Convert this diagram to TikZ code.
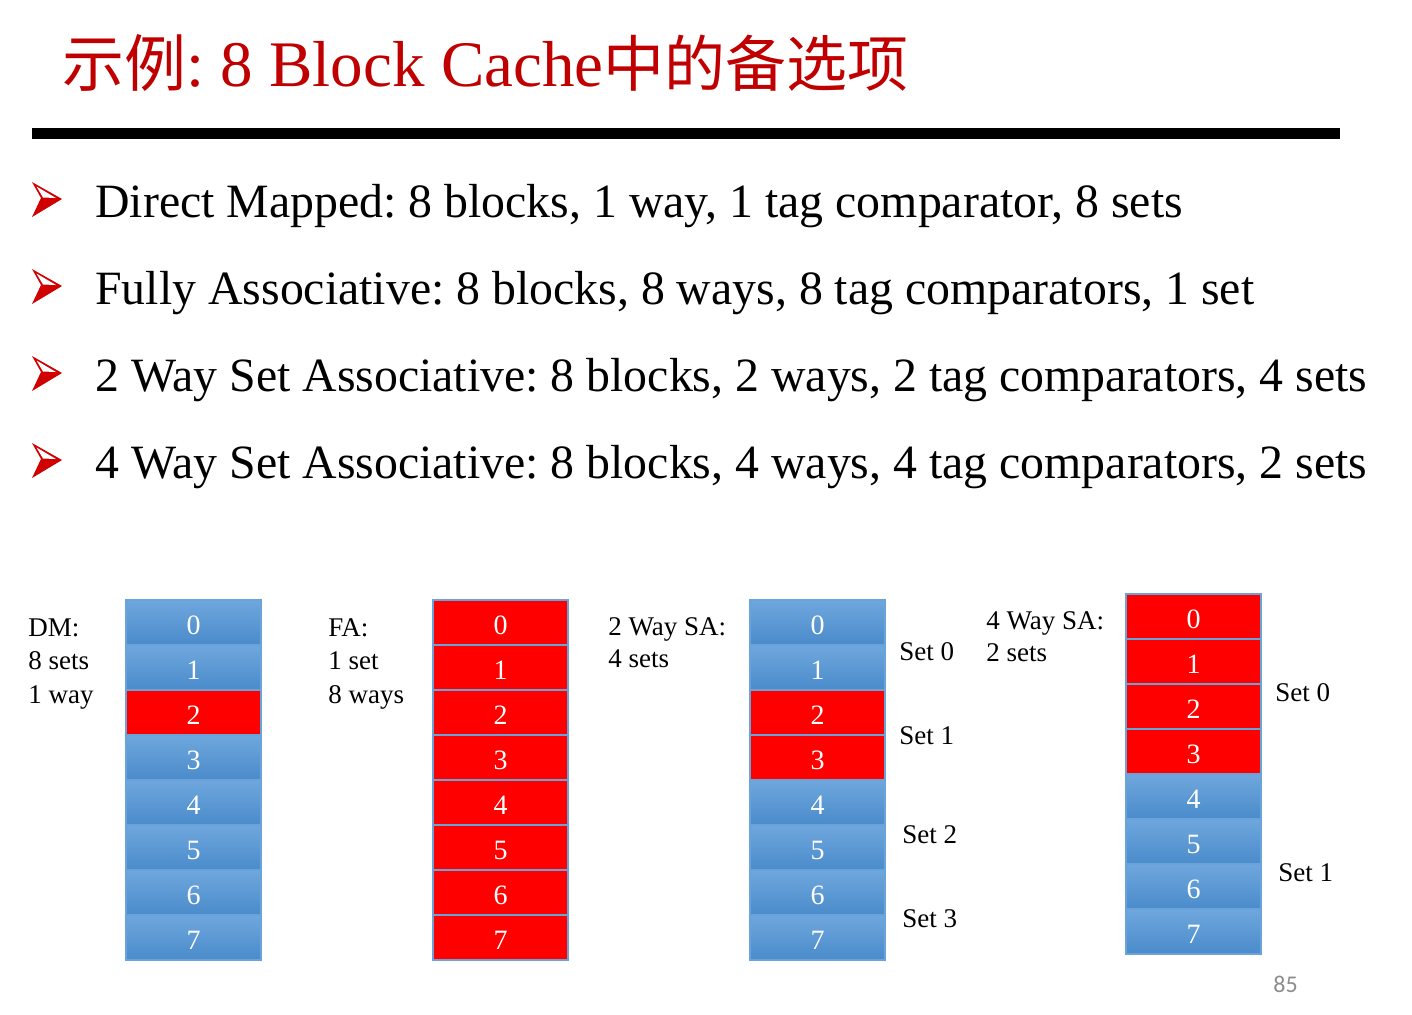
\documentclass[tikz,border=0pt]{standalone}
\usepackage{fontspec}
\setmainfont{Liberation Serif}
\newfontfamily\cjk{Noto Sans CJK SC}
\newfontfamily\pagefont{Carlito}
\definecolor{titlered}{HTML}{C00000}
\definecolor{bulletred}{HTML}{D00000}
\definecolor{celltop}{HTML}{6FA7DD}
\definecolor{cellbot}{HTML}{4A8BCB}
\definecolor{cellline}{HTML}{6AA3DA}
\definecolor{cellred}{HTML}{FF0000}
\definecolor{pagegray}{HTML}{8C8C8C}
\frenchspacing
\newcommand\cachecol[5]{%
  \foreach \i in {0,...,7}{%
    \pgfmathsetmacro\yy{#3+22.5+45*\i}%
    \ifnum\i<#4 \def\isred{0}\else\ifnum\i>#5 \def\isred{0}\else\def\isred{1}\fi\fi
    \ifnum\isred=1
      \node[redcell] (#1\i) at (#2,\yy) {\i};
    \else
      \node[bluecell] (#1\i) at (#2,\yy) {\i};
    \fi
  }}
\begin{document}
\begin{tikzpicture}[x=0.5pt,y=-0.5pt,
  basecell/.style={rectangle, draw=cellline, line width=0.6pt, minimum width=67.5pt,
    minimum height=22.5pt, inner sep=0pt, text=white, text height=12pt, text depth=0pt,
    font=\fontsize{14}{14}\selectfont},
  bluecell/.style={basecell, top color=celltop, bottom color=cellbot},
  redcell/.style={basecell, fill=cellred},
  lbl/.style={anchor=base west, inner sep=0pt, font=\fontsize{13.5}{16}\selectfont},
  bullettext/.style={anchor=base west, inner sep=0pt, font=\fontsize{23.9}{29}\selectfont},
]
\useasboundingbox (0,0) rectangle (1412,1014);
% title
\node[anchor=base west, inner sep=0pt, text=titlered, font=\fontsize{32.5}{36}\selectfont]
  (title) at (62,86) {{\cjk\fontsize{31}{36}\selectfont 示例}: 8 Block Cache{\cjk\fontsize{30.5}{36}\selectfont 中的备选项}};
\fill[black] (32,128) rectangle (1340,139);
% bullets
\foreach \n/\b/\t in {1/217/{Direct Mapped: 8 blocks, 1 way, 1 tag comparator, 8 sets},
  2/304/{Fully Associative: 8 blocks, 8 ways, 8 tag comparators, 1 set},
  3/391/{2 Way Set Associative: 8 blocks, 2 ways, 2 tag comparators, 4 sets},
  4/478/{4 Way Set Associative: 8 blocks, 4 ways, 4 tag comparators, 2 sets}}{
  \pgfmathsetmacro\c{\b-18}
  \fill[bulletred] (32,\c-17) -- (62,\c) -- (32,\c+18) -- (41,\c-1) -- cycle;
  \fill[white] (36.5,\c-12.5) -- (56,\c-1) -- (43,\c-1.5) -- cycle;
  \node[bullettext] (b\n) at (95,\b) {\t};
}
% columns
\cachecol{dm}{193.5}{600}{2}{2}
\cachecol{fa}{500.5}{600}{0}{7}
\cachecol{tw}{817.5}{600}{2}{3}
\cachecol{fw}{1193.5}{594}{0}{3}
% labels
\node[lbl] (dmA) at (28,636) {DM:};
\node[lbl] (dmB) at (28,669) {8 sets};
\node[lbl] (dmC) at (28,703) {1 way};
\node[lbl] (faA) at (328,636) {FA:};
\node[lbl] (faB) at (328,669) {1 set};
\node[lbl] (faC) at (328,703) {8 ways};
\node[lbl] (twA) at (608,635) {2 Way SA:};
\node[lbl] (twB) at (608,667) {4 sets};
\node[lbl] (twS0) at (899,660) {Set 0};
\node[lbl] (twS1) at (899,744) {Set 1};
\node[lbl] (twS2) at (902,843) {Set 2};
\node[lbl] (twS3) at (902,927) {Set 3};
\node[lbl] (fwA) at (986,629) {4 Way SA:};
\node[lbl] (fwB) at (986,661) {2 sets};
\node[lbl] (fwS0) at (1275,701) {Set 0};
\node[lbl] (fwS1) at (1278,881) {Set 1};
\node[anchor=base west, inner sep=0pt, text=pagegray, font=\pagefont\fontsize{12}{14}\selectfont]
  (page) at (1273,992) {85};
\end{tikzpicture}
\end{document}
